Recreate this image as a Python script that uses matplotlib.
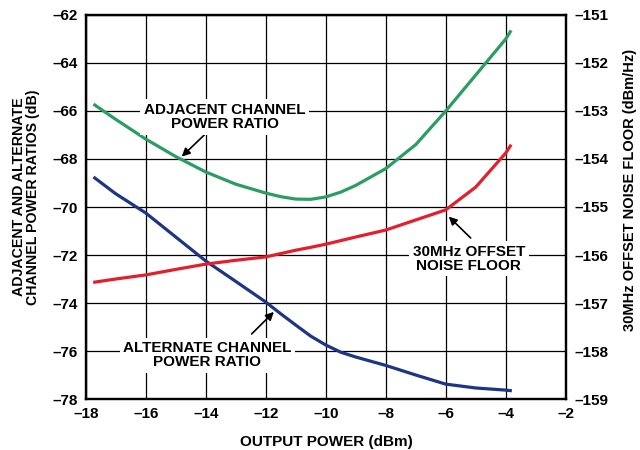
import matplotlib.pyplot as plt

plt.rcParams['font.family'] = ['Liberation Sans', 'DejaVu Sans']
plt.rcParams['font.weight'] = 'bold'

# output power (dBm)
power = [-17.7, -17, -16, -15, -14, -13, -12, -11.5, -11, -10.5, -10, -9.5, -9,
         -8, -7, -6, -5, -4, -3.85]

# adjacent channel power ratio (dB), left axis
acpr = [-65.75, -66.35, -67.17, -67.9, -68.54, -69.05, -69.42, -69.57, -69.67,
        -69.68, -69.58, -69.38, -69.1, -68.4, -67.4, -66.0, -64.5, -63.0, -62.7]

# alternate channel power ratio (dB), left axis
alt = [-68.79, -69.45, -70.25, -71.25, -72.25, -73.1, -73.96, -74.45, -74.92,
       -75.38, -75.75, -76.05, -76.25, -76.6, -77.0, -77.38, -77.54, -77.63, -77.65]

# 30MHz offset noise floor (dBm/Hz), right axis
noise = [-156.565, -156.5, -156.415, -156.3, -156.19, -156.11, -156.04, -155.97,
         -155.9, -155.84, -155.775, -155.7, -155.625, -155.48, -155.27, -155.06,
         -154.585, -153.875, -153.73]

fig = plt.figure(figsize=(6.4, 4.5), dpi=100)
ax = fig.add_axes([0.134, 0.1133, 0.75, 0.8534])
ax2 = ax.twinx()

ax.plot(power, acpr, color='#2a9d62', lw=2.3, zorder=3)
ax.plot(power, alt, color='#1d3585', lw=2.3, zorder=3)
ax2.plot(power, noise, color='#e41f2b', lw=2.3, zorder=3)

ax.set_xlim(-18, -2)
ax.set_ylim(-78, -62)
ax2.set_ylim(-159, -151)
ax.set_xticks(range(-18, -1, 2))
ax.set_yticks(range(-78, -61, 2))
ax2.set_yticks(range(-159, -150, 1))
ax.set_xticklabels([str(t).replace('-', '\u2013') for t in range(-18, -1, 2)])
ax.set_yticklabels([str(t).replace('-', '\u2013') for t in range(-78, -61, 2)])
ax2.set_yticklabels([str(t).replace('-', '\u2013') for t in range(-159, -150, 1)])

ax.grid(True, color='black', lw=0.9)
ax.set_axisbelow(True)
for a in (ax, ax2):
    a.tick_params(length=0, labelsize=11, pad=6)
    for s in a.spines.values():
        s.set_linewidth(1.6)
for lab in ax.get_xticklabels() + ax.get_yticklabels() + ax2.get_yticklabels():
    lab.set_fontweight('bold')

# axis titles placed directly on the figure
fig.text(326 / 640, 1 - 442 / 450, 'OUTPUT POWER (dBm)', fontsize=11,
         fontweight='bold', ha='center', va='center')
fig.text(26 / 640, 1 - 197 / 450, 'ADJACENT AND ALTERNATE\nCHANNEL POWER RATIOS (dB)',
         fontsize=10.2, fontweight='bold', ha='center', va='center', rotation=90,
         multialignment='center', linespacing=0.95)
fig.text(630 / 640, 1 - 190 / 450, '30MHz OFFSET NOISE FLOOR (dBm/Hz)', fontsize=10.5,
         fontweight='bold', ha='center', va='center', rotation=90)

box = dict(facecolor='white', edgecolor='none', pad=2.5)
arrow = dict(arrowstyle='-|>', color='black', lw=1.2, mutation_scale=12,
             shrinkA=0, shrinkB=0)

ax2.annotate('', xy=(-14.8, -67.9), xytext=(-14.05, -67.0), xycoords=ax.transData,
             textcoords=ax.transData, arrowprops=arrow, zorder=5)
ax2.text(-13.37, -66.25, 'ADJACENT CHANNEL\nPOWER RATIO', transform=ax.transData,
         ha='center', va='center', fontsize=11, fontweight='bold', bbox=box,
         linespacing=1.0, zorder=5)

ax2.annotate('', xy=(-11.73, -74.37), xytext=(-12.47, -75.29), xycoords=ax.transData,
             textcoords=ax.transData, arrowprops=arrow, zorder=5)
ax2.text(-13.95, -76.17, 'ALTERNATE CHANNEL\nPOWER RATIO', transform=ax.transData,
         ha='center', va='center', fontsize=11, fontweight='bold', bbox=box,
         linespacing=1.0, zorder=5)

ax2.annotate('', xy=(-5.9, -70.4), xytext=(-5.17, -71.29), xycoords=ax.transData,
             textcoords=ax.transData, arrowprops=arrow, zorder=5)
ax2.text(-5.23, -72.15, '30MHz OFFSET\nNOISE FLOOR', transform=ax.transData,
         ha='center', va='center', fontsize=11, fontweight='bold', bbox=box,
         linespacing=1.0, zorder=5)

plt.savefig('out.png', dpi=100)
plt.close()
